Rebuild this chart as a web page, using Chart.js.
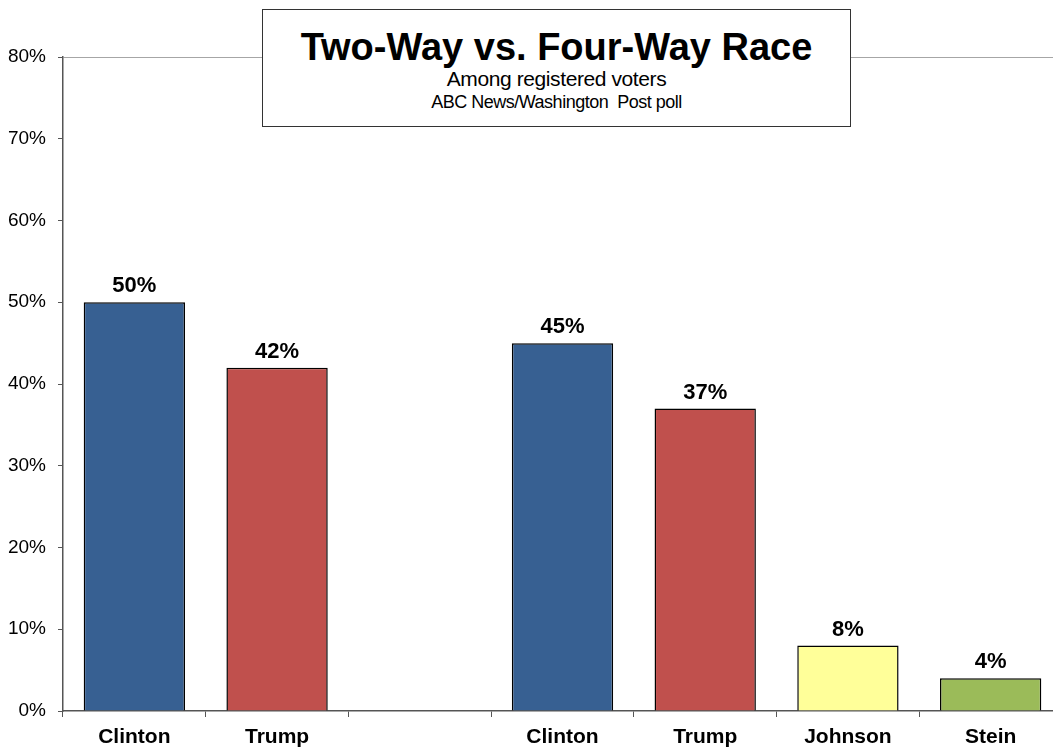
<!DOCTYPE html>
<html>
<head>
<meta charset="utf-8">
<script src="https://cdn.jsdelivr.net/npm/chart.js@4.4.1/dist/chart.umd.min.js"></script>
<style>
    html, body { margin: 0; padding: 0; background: #fff; overflow: hidden; }
    #wrap { position: relative; width: 1064px; height: 749px; }
    #titleBox {
        position: absolute; left: 262px; top: 9px; width: 587px; height: 116px;
        border: 1px solid #333; background: #fff; text-align: center;
        font-family: "Liberation Sans", Arial, sans-serif; color: #000;
    }
    #titleBox .t1 { font-size: 38px; font-weight: bold; line-height: 38px; margin-top: 18px; }
    #titleBox .t2 { font-size: 21px; line-height: 22px; margin-top: 2px; letter-spacing: -0.4px; }
    #titleBox .t3 { font-size: 18px; line-height: 20px; margin-top: 2px; letter-spacing: -0.5px; }
</style>
</head>
<body>
<div id="wrap">
    <canvas id="chart" width="1064" height="749"></canvas>
    <div id="titleBox">
        <div class="t1">Two-Way vs. Four-Way Race</div>
        <div class="t2">Among registered voters</div>
        <div class="t3">ABC News/Washington&nbsp; Post poll</div>
    </div>
</div>
<script>
// Chart data
const categories = ['Clinton', 'Trump', '', 'Clinton', 'Trump', 'Johnson', 'Stein'];
const shares = [50, 42, null, 45, 37, 8, 4];
const barColors = ['#376092', '#C0504D', '#ffffff', '#376092', '#C0504D', '#FFFF99', '#9BBB59'];
const yMin = 0;
const yMax = 80;
const yStep = 10;

const fontFamily = '"Liberation Sans", Arial, sans-serif';

// Percent labels above each bar
const valueLabels = {
    id: 'valueLabels',
    afterDatasetsDraw(chart) {
        const ctx = chart.ctx;
        const meta = chart.getDatasetMeta(0);
        ctx.save();
        ctx.font = `bold 22px ${fontFamily}`;
        ctx.fillStyle = '#000';
        ctx.textAlign = 'center';
        ctx.textBaseline = 'alphabetic';
        meta.data.forEach((bar, i) => {
            if (shares[i] == null) return;
            ctx.fillText(shares[i] + '%', bar.x, bar.y - 10);
        });
        ctx.restore();
    }
};

const chart = new Chart(document.getElementById('chart').getContext('2d'), {
    type: 'bar',
    data: {
        labels: categories,
        datasets: [{
            data: shares,
            backgroundColor: barColors,
            borderColor: '#000',
            borderWidth: 1.5,
            categoryPercentage: 1,
            barPercentage: 0.71
        }]
    },
    options: {
        responsive: false,
        animation: false,
        layout: { padding: { top: 57, right: 2, left: 0, bottom: 0 } },
        plugins: {
            legend: { display: false },
            tooltip: { enabled: false },
            title: { display: false }
        },
        scales: {
            x: {
                grid: {
                    display: true,
                    offset: true,
                    color: 'rgba(0,0,0,0)',
                    tickColor: '#555',
                    tickLength: 6
                },
                border: { display: true, color: '#555', width: 1.5 },
                ticks: {
                    color: '#000',
                    font: { family: fontFamily, size: 21, weight: 'bold' },
                    padding: 8,
                    maxRotation: 0,
                    autoSkip: false
                },
                afterFit(scale) { scale.height = 38; }
            },
            y: {
                min: yMin,
                max: yMax,
                grid: {
                    color: ctx => ctx.tick && ctx.tick.value === yMax ? '#a6a6a6' : 'rgba(0,0,0,0)',
                    tickColor: '#555',
                    tickLength: 5
                },
                border: { display: true, color: '#555', width: 1.5 },
                ticks: {
                    stepSize: yStep,
                    color: '#000',
                    font: { family: fontFamily, size: 19 },
                    padding: 12,
                    callback: v => v + '%'
                },
                afterFit(scale) { scale.width = 63; }
            }
        }
    },
    plugins: [valueLabels]
});
</script>
</body>
</html>
